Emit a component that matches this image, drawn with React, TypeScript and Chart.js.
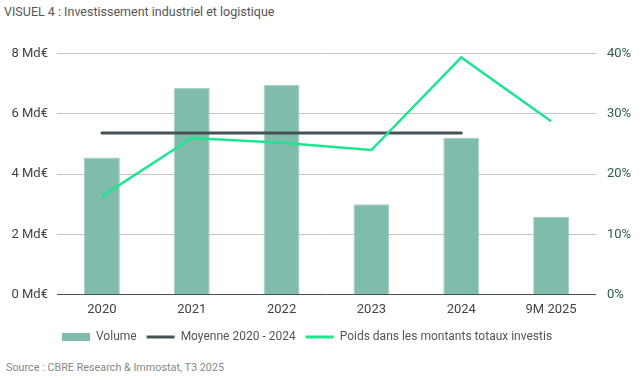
import React, { useEffect, useRef } from "react";
import { Chart, registerables } from "chart.js";

Chart.register(...registerables);

const categories = ["2020", "2021", "2022", "2023", "2024", "9M 2025"];
const volume = [4.55, 6.87, 6.97, 3.0, 5.2, 2.57];
const moyenne = [5.37, 5.37, 5.37, 5.37, 5.37, null];
const poids = [16.3, 26.0, 25.2, 24.0, 39.4, 28.8];
const leftTicks = [0, 2, 4, 6, 8];
const rightTicks = [0, 10, 20, 30, 40];

const BAR = "#80bcac";
const DARK = "#435254";
const GREEN = "#1ee58f";
const FONT = "Roboto, 'Noto Sans', sans-serif";

const legendShift = {
  id: "legendShift",
  afterLayout(chart: any) {
    if (chart.legend) {
      chart.legend.left += 52;
      chart.legend.right += 52;
    }
  },
};

export default function App() {
  const ref = useRef<HTMLCanvasElement | null>(null);
  useEffect(() => {
    if (!ref.current) return;
    const chart = new Chart(ref.current, {
      data: {
        labels: categories,
        datasets: [
          {
            type: "bar",
            label: "Volume",
            data: volume,
            backgroundColor: BAR,
            borderColor: "#a5d2c5",
            borderWidth: 1,
            yAxisID: "y",
            barPercentage: 0.4,
            categoryPercentage: 1,
            order: 3,
          },
          {
            type: "line",
            label: "Moyenne 2020 - 2024",
            data: moyenne,
            borderColor: DARK,
            backgroundColor: DARK,
            borderWidth: 3,
            borderCapStyle: "round",
            pointRadius: 0,
            yAxisID: "y",
            order: 2,
          },
          {
            type: "line",
            label: "Poids dans les montants totaux investis",
            data: poids,
            borderColor: GREEN,
            backgroundColor: GREEN,
            borderWidth: 2.5,
            pointRadius: 0,
            tension: 0,
            yAxisID: "y1",
            order: 1,
          },
        ],
      } as any,
      options: {
        animation: false,
        responsive: false,
        maintainAspectRatio: false,
        layout: { padding: { left: 0, right: 0, top: 17, bottom: 0 } },
        plugins: {
          tooltip: { enabled: false },
          legend: {
            position: "bottom",
            align: "start",
            labels: {
              usePointStyle: true,
              pointStyleWidth: 28,
              boxHeight: 8,
              padding: 10,
              color: "#555",
              font: { family: FONT, size: 12 },
              generateLabels: (c: any) =>
                c.data.datasets.map((ds: any, i: number) => ({
                  text: ds.label,
                  fillStyle: ds.type === "bar" ? BAR : ds.borderColor,
                  strokeStyle: ds.type === "bar" ? BAR : ds.borderColor,
                  lineWidth: ds.type === "bar" ? 0 : 3,
                  pointStyle: ds.type === "bar" ? "rect" : "line",
                  datasetIndex: i,
                  hidden: false,
                  fontColor: "#555",
                })),
            },
          },
        },
        scales: {
          x: {
            grid: { display: false, drawTicks: false },
            border: { display: false },
            ticks: { color: "#444", font: { family: FONT, size: 13 }, padding: 8 },
            afterFit: (s: any) => {
              s.height -= 5;
            },
          },
          y: {
            position: "left",
            min: 0,
            max: 8,
            afterBuildTicks: (s: any) => {
              s.ticks = leftTicks.map((v) => ({ value: v }));
            },
            afterFit: (s: any) => {
              s.width = 57;
            },
            grid: {
              drawTicks: false,
              color: (ctx: any) => (ctx.tick && ctx.tick.value === 0 ? DARK : "#c4c4c4"),
              lineWidth: 1,
            },
            border: { display: false },
            ticks: {
              color: "#444",
              font: { family: FONT, size: 13 },
              padding: 9,
              callback: (v: any) => `${v} Md€`,
            },
          },
          y1: {
            position: "right",
            min: 0,
            max: 40,
            afterBuildTicks: (s: any) => {
              s.ticks = rightTicks.map((v) => ({ value: v }));
            },
            afterFit: (s: any) => {
              s.width = 46;
            },
            grid: { display: false, drawTicks: false },
            border: { display: false },
            ticks: {
              color: "#2e5e4e",
              font: { family: FONT, size: 13 },
              padding: 11,
              callback: (v: any) => `${v}%`,
            },
          },
        },
      } as any,
      plugins: [legendShift],
    });
    return () => chart.destroy();
  }, []);

  return (
    <div style={{ position: "fixed", left: 0, top: 0, width: 642, height: 380, background: "#fff", fontFamily: FONT }}>
      <div style={{ position: "absolute", left: 4, top: 4, fontSize: 12.5, color: "#555" }}>
        VISUEL 4 : Investissement industriel et logistique
      </div>
      <canvas ref={ref} width={642} height={318} style={{ position: "absolute", left: 0, top: 35, width: 642, height: 318 }} />
      <div style={{ position: "absolute", left: 6, top: 361, fontSize: 10.8, color: "#888" }}>
        Source : CBRE Research &amp; Immostat, T3 2025
      </div>
    </div>
  );
}
